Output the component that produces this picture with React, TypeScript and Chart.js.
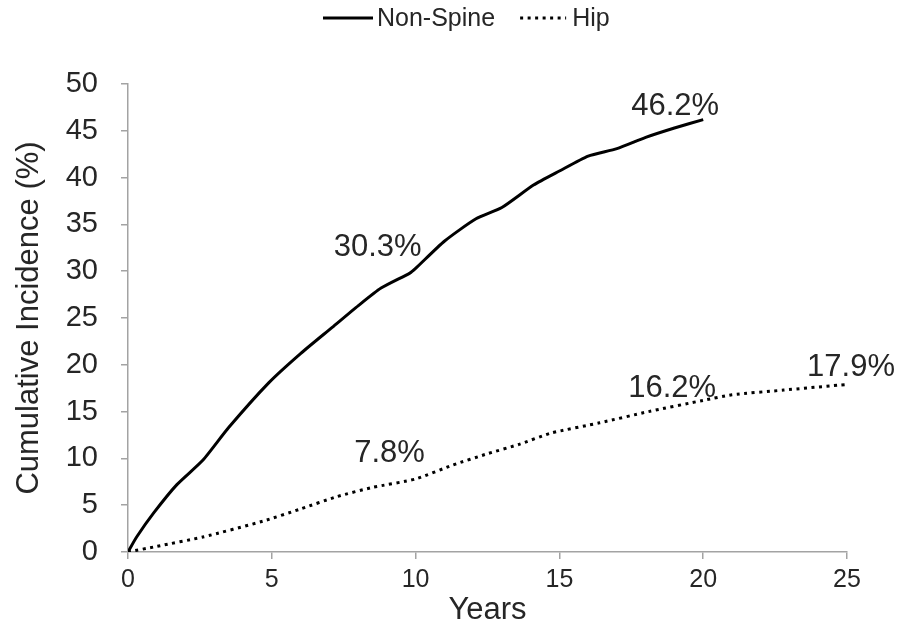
import React, { useEffect, useRef } from 'react';
import { Chart, registerables } from 'chart.js';

Chart.register(...registerables);

// ---- data ----
const nonSpineYears = [0, 0.3, 0.9, 1.7, 2.6, 3.5, 4.9, 6.0, 7.1, 8.0, 8.8, 9.8, 10.0, 11.0, 12.1, 13.0, 14.1, 15.0, 16.0, 17.0, 18.0, 19.0, 20.0];
const nonSpineValues = [0, 1.6, 4.2, 7.2, 9.8, 13.3, 18.1, 21.2, 24.0, 26.3, 28.2, 29.8, 30.3, 33.2, 35.6, 36.8, 39.2, 40.7, 42.3, 43.1, 44.3, 45.3, 46.2];

const hipYears = [0, 1.0, 2.6, 4.7, 6.0, 7.25, 8.5, 10.0, 11.3, 12.5, 13.6, 14.7, 16.4, 18.1, 20.0, 21.0, 22.8, 25.0];
const hipValues = [0, 0.6, 1.6, 3.3, 4.6, 5.9, 6.9, 7.8, 9.3, 10.5, 11.5, 12.7, 13.8, 15.0, 16.2, 16.8, 17.3, 17.9];

const seriesNames = ['Non-Spine', 'Hip'];

const annotationTexts = ['30.3%', '7.8%', '46.2%', '16.2%', '17.9%'];
const annotationYears = [10, 10, 20, 20, 25];
const annotationValues = [30.3, 7.8, 46.2, 16.2, 17.9];

const xAxisTitle = 'Years';
const yAxisTitle = 'Cumulative Incidence (%)';
const xMin = 0;
const xMax = 25;
const xStep = 5;
const yMin = 0;
const yMax = 50;
const yStep = 5;

// ---- styles ----
const FONT = '"Liberation Sans", Arial, sans-serif';
const TEXT = '#262626';
const AXIS = '#a3a3a3';
const annotationOffsets = [
  [-38, -21],
  [-26, -26],
  [-28, -13],
  [-31, -12],
  [4, -17],
];

const annotationPlugin = {
  id: 'valueLabels',
  afterDatasetsDraw(chart: any) {
    const { ctx, scales } = chart;
    ctx.save();
    ctx.font = `31px ${FONT}`;
    ctx.fillStyle = TEXT;
    ctx.textAlign = 'center';
    ctx.textBaseline = 'middle';
    annotationTexts.forEach((t, i) => {
      const px = scales.x.getPixelForValue(annotationYears[i]);
      const py = scales.y.getPixelForValue(annotationValues[i]);
      const [dx, dy] = annotationOffsets[i];
      ctx.fillText(t, px + dx, py + dy);
    });
    ctx.restore();
  },
};

const legendPlugin = {
  id: 'customLegend',
  afterDraw(chart: any) {
    const { ctx } = chart;
    ctx.save();
    ctx.font = `25px ${FONT}`;
    ctx.fillStyle = TEXT;
    ctx.textBaseline = 'middle';
    ctx.textAlign = 'left';
    const y = 19;
    let x = 323;
    chart.data.datasets.forEach((ds: any, i: number) => {
      const sampleW = i === 0 ? 50 : 46;
      ctx.beginPath();
      ctx.strokeStyle = '#000';
      ctx.lineWidth = 3;
      ctx.lineCap = 'butt';
      ctx.setLineDash(ds.borderDash || []);
      ctx.moveTo(x, y - 1);
      ctx.lineTo(x + sampleW, y - 1);
      ctx.stroke();
      ctx.setLineDash([]);
      x += sampleW + (i === 0 ? 4 : 6);
      ctx.fillText(ds.label, x, y);
      x += ctx.measureText(ds.label).width + 25;
    });
    ctx.restore();
  },
};

export default function App() {
  const ref = useRef<HTMLCanvasElement | null>(null);

  useEffect(() => {
    if (!ref.current) return;
    const chart = new Chart(ref.current, {
      type: 'line',
      data: {
        datasets: [
          {
            label: seriesNames[0],
            data: nonSpineYears.map((x, i) => ({ x, y: nonSpineValues[i] })),
            borderColor: '#000',
            borderWidth: 3,
            pointRadius: 0,
            tension: 0.2,
            fill: false,
          },
          {
            label: seriesNames[1],
            data: hipYears.map((x, i) => ({ x, y: hipValues[i] })),
            borderColor: '#000',
            borderWidth: 3,
            borderDash: [3, 4.5],
            borderCapStyle: 'butt',
            pointRadius: 0,
            tension: 0.2,
            fill: false,
          },
        ],
      },
      options: {
        animation: false,
        responsive: false,
        layout: { padding: { top: 84, right: 56, left: 0, bottom: 0 } },
        plugins: {
          legend: { display: false },
          tooltip: { enabled: false },
        },
        scales: {
          x: {
            type: 'linear',
            min: xMin,
            max: xMax,
            ticks: {
              stepSize: xStep,
              color: TEXT,
              font: { family: FONT, size: 25 },
              padding: 6,
              maxRotation: 0,
            },
            grid: {
              drawOnChartArea: false,
              drawTicks: true,
              tickLength: 7,
              color: AXIS,
              lineWidth: 1.5,
            },
            border: { display: true, color: AXIS, width: 1.5 },
            title: {
              display: true,
              text: xAxisTitle,
              color: TEXT,
              font: { family: FONT, size: 31 },
              padding: { top: 0, bottom: 3 },
            },
            afterFit(s: any) {
              s.height = 80;
            },
          },
          y: {
            type: 'linear',
            min: yMin,
            max: yMax,
            ticks: {
              stepSize: yStep,
              color: TEXT,
              font: { family: FONT, size: 29 },
              padding: 23,
            },
            grid: {
              drawOnChartArea: false,
              drawTicks: true,
              tickLength: 7,
              color: AXIS,
              lineWidth: 1.5,
            },
            border: { display: true, color: AXIS, width: 1.5 },
            title: {
              display: true,
              text: yAxisTitle,
              color: TEXT,
              font: { family: FONT, size: 31 },
              padding: { top: 11, bottom: 0 },
            },
            afterFit(s: any) {
              s.width = 128;
            },
          },
        },
      } as any,
      plugins: [annotationPlugin, legendPlugin],
    });
    return () => chart.destroy();
  }, []);

  return (
    <div style={{ position: 'absolute', left: 0, top: 0, width: 903, height: 632, background: '#fff' }}>
      <canvas ref={ref} width={903} height={632} style={{ display: 'block' }} />
    </div>
  );
}
